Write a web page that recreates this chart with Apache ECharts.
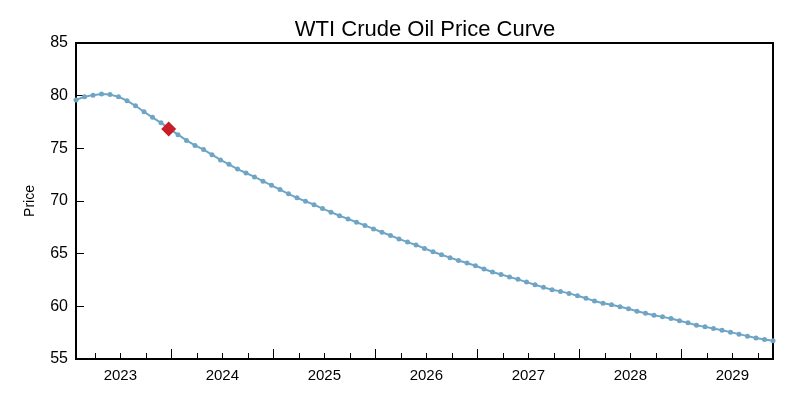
<!DOCTYPE html>
<html>
<head>
<meta charset="utf-8">
<title>WTI Crude Oil Price Curve</title>
<script src="https://cdn.jsdelivr.net/npm/echarts@6/dist/echarts.min.js"></script>
<style>
  html, body { margin: 0; padding: 0; background: #fff; }
  #main { width: 793px; height: 400px; }
</style>
</head>
<body>
<div id="main"></div>
<script>
// first contract month, as a fractional year
var startYear = 2023.065;
// monthly settlement prices along the curve
var prices = [
  79.6, 79.9, 80.05, 80.15, 80.1, 79.9, 79.52, 79.04, 78.47, 77.94,
  77.42, 76.85, 76.3, 75.75, 75.28, 74.88, 74.4, 73.9, 73.48, 73.03,
  72.66, 72.29, 71.88, 71.49, 71.08, 70.68, 70.3, 69.98, 69.65, 69.28,
  68.94, 68.6, 68.3, 67.98, 67.68, 67.35, 67.03, 66.72, 66.4, 66.1,
  65.82, 65.5, 65.18, 64.9, 64.62, 64.35, 64.12, 63.85, 63.55, 63.26,
  63.03, 62.78, 62.56, 62.3, 62.05, 61.8, 61.58, 61.42, 61.23, 61.0,
  60.76, 60.5, 60.3, 60.15, 59.96, 59.77, 59.54, 59.34, 59.15, 59.0,
  58.84, 58.63, 58.43, 58.21, 58.05, 57.9, 57.73, 57.55, 57.36, 57.17,
  57.0, 56.85, 56.73
];
// highlighted point (red diamond)
var markerPoint = [2023.974, 76.83];
var yearLabels = [2023, 2024, 2025, 2026, 2027, 2028, 2029];
var yTicks = {min: 55, max: 85, step: 5};

var endYear = startYear + (prices.length - 1) / 12;
var curve = prices.map(function (p, i) { return [startYear + i / 12, p]; });

var yearTicks = [];
var quarterTicks = [];
var labelPos = [];
yearLabels.forEach(function (y) {
  yearTicks.push(y);
  quarterTicks.push(y + 0.25, y + 0.5, y + 0.75);
  labelPos.push(y + 0.5);
});
yearTicks.push(yearLabels[yearLabels.length - 1] + 1);
yearTicks = yearTicks.filter(function (v) { return v > startYear && v < endYear; });
quarterTicks = quarterTicks.filter(function (v) { return v > startYear && v < endYear; });

var font = 'Liberation Sans, Arial, sans-serif';
var myChart = echarts.init(document.getElementById('main'));

var option = {
  backgroundColor: '#fff',
  animation: false,
  title: {
    text: 'WTI Crude Oil Price Curve',
    left: 420,
    top: 14,
    textAlign: 'center',
    textStyle: {fontFamily: font, fontSize: 22, fontWeight: 'normal', color: '#000'}
  },
  grid: {
    left: 76,
    right: 20,
    top: 43,
    bottom: 41,
    show: true,
    borderColor: '#000',
    borderWidth: 2,
    backgroundColor: '#fff'
  },
  xAxis: [
    {
      type: 'value',
      min: startYear,
      max: endYear,
      axisLine: {show: true, lineStyle: {color: '#000', width: 2}},
      axisTick: {show: true, inside: true, length: 6, customValues: quarterTicks,
        lineStyle: {color: '#000', width: 1}},
      axisLabel: {
        customValues: labelPos,
        formatter: function (v) { return String(Math.floor(v)); },
        color: '#000', fontFamily: font, fontSize: 15, margin: 9
      },
      splitLine: {show: false}
    },
    {
      type: 'value',
      position: 'bottom',
      min: startYear,
      max: endYear,
      axisLine: {show: false},
      axisTick: {show: true, inside: true, length: 10, customValues: yearTicks,
        lineStyle: {color: '#000', width: 1}},
      axisLabel: {show: false},
      splitLine: {show: false}
    }
  ],
  yAxis: {
    type: 'value',
    min: yTicks.min,
    max: yTicks.max,
    interval: yTicks.step,
    name: 'Price',
    nameLocation: 'middle',
    nameRotate: 90,
    nameGap: 39,
    nameTextStyle: {color: '#000', fontFamily: font, fontSize: 14},
    axisLine: {show: true, lineStyle: {color: '#000', width: 2}},
    axisTick: {show: true, inside: true, length: 8, lineStyle: {color: '#000', width: 1}},
    axisLabel: {color: '#000', fontFamily: font, fontSize: 16, margin: 8},
    splitLine: {show: false}
  },
  series: [
    {
      name: 'WTI',
      type: 'line',
      data: curve,
      symbol: 'circle',
      symbolSize: 5,
      showSymbol: true,
      lineStyle: {color: '#6fa5c4', width: 2},
      itemStyle: {color: '#6fa5c4'},
      z: 2
    },
    {
      name: 'Spot',
      type: 'scatter',
      data: [markerPoint],
      symbol: 'diamond',
      symbolSize: 15,
      itemStyle: {color: '#c81e28', opacity: 1},
      z: 3
    }
  ]
};

myChart.setOption(option);
</script>
</body>
</html>
